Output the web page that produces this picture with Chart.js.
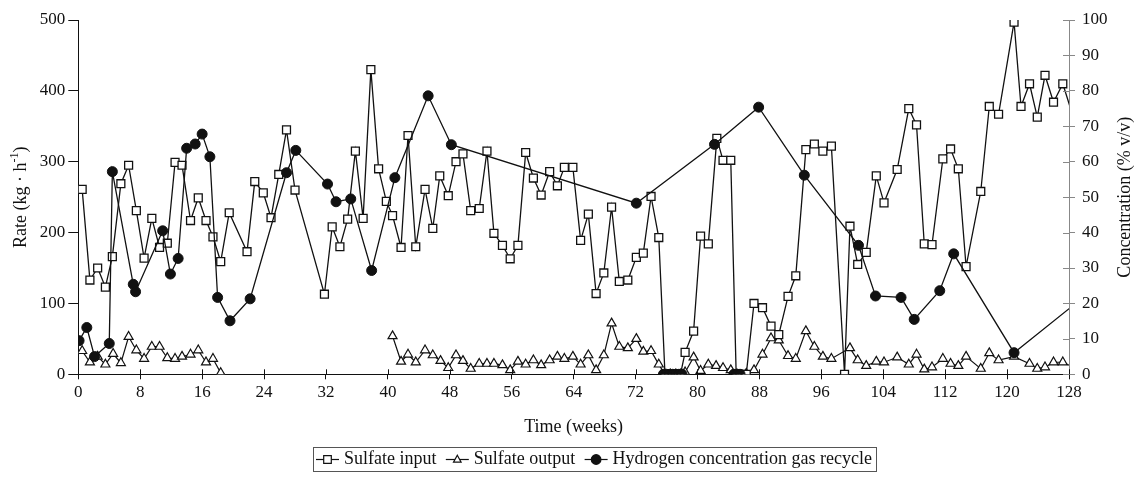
<!DOCTYPE html>
<html>
<head>
<meta charset="utf-8">
<script src="https://cdn.jsdelivr.net/npm/chart.js@4.4.0/dist/chart.umd.min.js"></script>
<style>
  html, body { margin: 0; background: #fff; }
  #wrap { width: 1137px; height: 480px; position: relative; }
</style>
</head>
<body>
<div id="wrap"><canvas id="chart"></canvas></div>
<script>
// Sulfate input (kg/h), left axis
const inputWeeks = [0.5, 1.5, 2.5, 3.5, 4.4, 5.5, 6.5, 7.5, 8.5, 9.5, 10.5, 11.5, 12.5, 13.4, 14.5, 15.5, 16.5, 17.4, 18.4, 19.5,
  21.8, 22.8, 23.9, 24.9, 25.9, 26.9, 28.0, 31.8, 32.8, 33.8, 34.8, 35.8, 36.8, 37.8, 38.8, 39.8, 40.6, 41.7, 42.6, 43.6,
  44.8, 45.8, 46.7, 47.8, 48.8, 49.7, 50.7, 51.8, 52.8, 53.7, 54.8, 55.8, 56.8, 57.8, 58.8, 59.8, 60.9, 61.9, 62.8, 63.9,
  64.9, 65.9, 66.9, 67.9, 68.9, 69.9, 71.0, 72.1, 73.0, 74.0, 75.0, 75.8, 76.3, 76.8, 77.3, 77.8, 78.4, 79.5, 80.4, 81.4,
  82.5, 83.3, 84.3, 85.0, 85.6, 86.3, 87.3, 88.4, 89.5, 90.5, 91.7, 92.7, 94.0, 95.1, 96.2, 97.3, 99.0, 99.7, 100.7, 101.8,
  103.1, 104.1, 105.8, 107.3, 108.3, 109.3, 110.3, 111.7, 112.7, 113.7, 114.7, 116.6, 117.7, 118.9, 120.9, 121.8, 122.9, 123.9, 124.9, 126.0,
  127.2, 129.5];
const inputRate = [261, 133, 150, 123, 166, 269, 295, 231, 164, 220, 179, 185, 299, 295, 217, 249, 217, 194, 159, 228,
  173, 272, 256, 221, 282, 345, 260, 113, 208, 180, 219, 315, 220, 430, 290, 244, 224, 179, 337, 180,
  261, 206, 280, 252, 300, 311, 231, 234, 315, 199, 182, 163, 182, 313, 277, 253, 286, 266, 292, 292,
  189, 226, 114, 143, 236, 131, 133, 165, 171, 251, 193, 0, 0, 0, 0, 0, 31, 61, 195, 184,
  333, 302, 302, 0, 0, 0, 100, 94, 68, 56, 110, 139, 317, 325, 315, 322, 0, 209, 155, 172,
  280, 242, 289, 375, 352, 184, 183, 304, 318, 290, 152, 258, 378, 367, 497, 378, 410, 363, 422, 384,
  410, 330];

// Sulfate output (kg/h), left axis; null = no measurements
const outputWeeks = [0.5, 1.5, 2.5, 3.5, 4.5, 5.5, 6.5, 7.5, 8.5, 9.5, 10.5, 11.5, 12.5, 13.4, 14.5, 15.5, 16.5, 17.4, 18.4, 30,
  40.6, 41.7, 42.6, 43.6, 44.8, 45.8, 46.8, 47.8, 48.8, 49.7, 50.7, 51.8, 52.8, 53.7, 54.8, 55.8, 56.8, 57.8, 58.8, 59.8,
  60.9, 61.9, 62.8, 63.9, 64.9, 65.9, 66.9, 67.9, 68.9, 69.9, 71.0, 72.1, 73.0, 74.0, 75.0, 75.8, 76.5, 77.2, 77.8, 78.4,
  79.5, 80.4, 81.4, 82.4, 83.3, 84.3, 85.1, 86.3, 87.3, 88.4, 89.5, 90.5, 91.7, 92.7, 94.0, 95.1, 96.2, 97.3, 99.7, 100.7,
  101.8, 103.1, 104.1, 105.8, 107.3, 108.3, 109.3, 110.3, 111.7, 112.7, 113.7, 114.7, 116.6, 117.7, 118.9, 120.9, 122.9, 123.9, 124.9, 126.0,
  127.2, 129];
const outputRate = [33, 17, 25, 14, 29, 16, 53, 34, 22, 39, 39, 23, 22, 25, 28, 34, 17, 22, 2, null,
  54, 18, 28, 17, 34, 27, 19, 9, 27, 19, 8, 15, 15, 15, 13, 6, 18, 14, 20, 13,
  20, 25, 22, 25, 14, 27, 6, 27, 72, 39, 37, 50, 32, 33, 14, 0, 0, 0, 0, 3,
  24, 5, 14, 12, 9, 6, 0, 1, 6, 28, 51, 48, 26, 22, 61, 39, 25, 22, 37, 20,
  12, 18, 17, 24, 14, 28, 7, 10, 22, 15, 12, 25, 8, 30, 20, 25, 15, 8, 10, 17,
  17, 8];

// Hydrogen concentration in gas recycle (% v/v), right axis
const h2Weeks = [0.1, 1.1, 2.1, 4.0, 4.4, 7.1, 7.4, 10.9, 11.9, 12.9, 14.0, 15.1, 16.0, 17.0, 18.0, 19.6, 22.2, 26.9, 28.1, 32.2,
  33.3, 35.2, 37.9, 40.9, 45.2, 48.2, 72.1, 82.2, 87.9, 93.8, 100.8, 103.0, 106.3, 108.0, 111.3, 113.1, 120.9, 130];
const h2Conc = [9.5, 13.2, 5.0, 8.7, 57.2, 25.4, 23.3, 40.5, 28.3, 32.7, 63.8, 65.0, 67.8, 61.4, 21.7, 15.1, 21.3, 56.9, 63.2, 53.7,
  48.7, 49.5, 29.3, 55.5, 78.6, 64.8, 48.3, 64.9, 75.4, 56.2, 36.4, 22.1, 21.7, 15.5, 23.6, 34.0, 6.1, 22];

// hydrogen readings at zero (unconnected)
const h2ZeroWeeks = [75.6, 76.0, 76.4, 76.8, 77.2, 77.6, 78.0, 84.7, 85.1, 85.5];

const xTicks = [0, 8, 16, 24, 32, 40, 48, 56, 64, 72, 80, 88, 96, 104, 112, 120, 128];

const INK = '#111';
const SERIF = '"Liberation Serif", "Times New Roman", serif';

const pts = (xs, ys) => xs.map((x, i) => ({ x, y: ys[i] }));

function drawMarker(ctx, style, x, y, r, fill) {
  ctx.beginPath();
  if (style === 'rect') {
    ctx.rect(x - r, y - r, 2 * r, 2 * r);
  } else if (style === 'triangle') {
    ctx.moveTo(x, y - r * 1.1);
    ctx.lineTo(x + r, y + r * 0.7);
    ctx.lineTo(x - r, y + r * 0.7);
    ctx.closePath();
  } else {
    ctx.arc(x, y, r, 0, Math.PI * 2);
  }
  ctx.fillStyle = fill;
  ctx.fill();
  ctx.stroke();
}

const decor = {
  id: 'decor',
  afterDraw(chart) {
    const { ctx, chartArea: a, scales } = chart;
    ctx.save();

    // inner half of the crossing tick marks
    ctx.lineWidth = 1;
    ctx.strokeStyle = INK;
    ctx.beginPath();
    scales.x.ticks.forEach(t => {
      const px = Math.round(scales.x.getPixelForValue(t.value)) + 0.5;
      ctx.moveTo(px, a.bottom);
      ctx.lineTo(px, a.bottom - 5);
    });
    ctx.stroke();
    ctx.strokeStyle = '#888';
    ctx.beginPath();
    scales.y2.ticks.forEach(t => {
      const py = Math.round(scales.y2.getPixelForValue(t.value)) + 0.5;
      ctx.moveTo(a.right, py);
      ctx.lineTo(a.right - 6, py);
    });
    ctx.stroke();

    // vertical axis titles, both reading bottom to top
    ctx.fillStyle = INK;
    ctx.textBaseline = 'middle';
    const cy = (a.top + a.bottom) / 2;
    const big = '18px ' + SERIF, small = '12px ' + SERIF;
    ctx.save();
    ctx.translate(21, cy);
    ctx.rotate(-Math.PI / 2);
    ctx.font = big;
    const p1 = 'Rate (kg \u00b7 h', p3 = ')';
    const w1 = ctx.measureText(p1).width, w3 = ctx.measureText(p3).width;
    ctx.font = small;
    const w2 = ctx.measureText('-1').width;
    let sx = -(w1 + w2 + w3) / 2;
    ctx.textAlign = 'left';
    ctx.font = big;
    ctx.fillText(p1, sx, 0);
    ctx.font = small;
    ctx.fillText('-1', sx + w1, -6);
    ctx.font = big;
    ctx.fillText(p3, sx + w1 + w2, 0);
    ctx.restore();

    ctx.save();
    ctx.translate(1125, cy);
    ctx.rotate(-Math.PI / 2);
    ctx.font = big;
    ctx.textAlign = 'center';
    ctx.fillText('Concentration (% v/v)', 0, 0);
    ctx.restore();

    // legend box
    const items = [
      { label: 'Sulfate input', style: 'rect', r: 3.8, fill: '#fff' },
      { label: 'Sulfate output', style: 'triangle', r: 3.8, fill: '#fff' },
      { label: 'Hydrogen concentration gas recycle', style: 'circle', r: 4.8, fill: INK }
    ];
    const boxL = 313, boxR = 876, boxT = 447, boxB = 471;
    ctx.font = '18px ' + SERIF;
    const lineLen = 23, gapText = 5;
    const widths = items.map(it => ctx.measureText(it.label).width);
    const used = widths.reduce((s, w) => s + w + lineLen + gapText, 0);
    const gap = Math.max(3, (boxR - boxL - 7 - used) / 2);
    ctx.lineWidth = 1;
    ctx.strokeStyle = '#555';
    ctx.strokeRect(boxL + 0.5, boxT + 0.5, boxR - boxL, boxB - boxT);
    let lx = boxL + 3;
    const ly = (boxT + boxB) / 2 + 0.5;
    items.forEach((it, i) => {
      ctx.strokeStyle = INK;
      ctx.lineWidth = 1.2;
      ctx.beginPath();
      ctx.moveTo(lx, ly);
      ctx.lineTo(lx + lineLen, ly);
      ctx.stroke();
      drawMarker(ctx, it.style, lx + lineLen / 2, ly, it.r, it.fill);
      ctx.fillStyle = INK;
      ctx.textAlign = 'left';
      ctx.fillText(it.label, lx + lineLen + gapText, ly);
      lx += lineLen + gapText + widths[i] + gap;
    });

    ctx.restore();
  }
};

const tickFont = { family: SERIF, size: 17 };

new Chart(document.getElementById('chart'), {
  type: 'line',
  data: {
    datasets: [
      {
        label: 'Hydrogen zero readings',
        data: h2ZeroWeeks.map(x => ({ x, y: 0 })),
        yAxisID: 'y2',
        showLine: false,
        pointStyle: 'circle',
        pointRadius: 5,
        pointBackgroundColor: INK,
        pointBorderColor: INK,
        borderColor: INK
      },
      {
        label: 'Hydrogen concentration gas recycle',
        data: pts(h2Weeks, h2Conc),
        yAxisID: 'y2',
        borderColor: INK,
        borderWidth: 1.3,
        pointStyle: 'circle',
        pointRadius: 5,
        pointBackgroundColor: INK,
        pointBorderColor: INK,
        pointBorderWidth: 1
      },
      {
        label: 'Sulfate input',
        data: pts(inputWeeks, inputRate),
        yAxisID: 'y',
        borderColor: INK,
        borderWidth: 1.3,
        pointStyle: 'rect',
        pointRadius: 5.6,
        pointBackgroundColor: '#fff',
        pointBorderColor: INK,
        pointBorderWidth: 1.3
      },
      {
        label: 'Sulfate output',
        data: pts(outputWeeks, outputRate),
        yAxisID: 'y',
        spanGaps: false,
        borderColor: INK,
        borderWidth: 1.2,
        pointStyle: 'triangle',
        pointRadius: 5.2,
        pointBackgroundColor: '#fff',
        pointBorderColor: INK,
        pointBorderWidth: 1.2
      }
    ]
  },
  options: {
    responsive: true,
    maintainAspectRatio: false,
    animation: false,
    layout: { padding: { top: 20, left: 0, right: 0, bottom: 0 } },
    plugins: { legend: { display: false }, tooltip: { enabled: false } },
    scales: {
      x: {
        type: 'linear',
        min: 0,
        max: 128,
        afterBuildTicks: s => { s.ticks = xTicks.map(v => ({ value: v })); },
        afterFit: s => { s.height = 105.7; },
        grid: { display: true, drawOnChartArea: false, drawTicks: true, tickLength: 5, color: INK },
        border: { display: true, color: INK, width: 1 },
        ticks: { font: tickFont, color: INK, padding: 3, maxRotation: 0, autoSkip: false },
        title: { display: true, text: 'Time (weeks)', font: { family: SERIF, size: 18 }, color: INK, padding: { top: 0, bottom: 42 } }
      },
      y: {
        position: 'left',
        min: 0,
        max: 500,
        afterFit: s => { s.width = 78.3; },
        grid: { display: true, drawOnChartArea: false, drawTicks: true, tickLength: 10, color: INK },
        border: { display: true, color: INK, width: 1 },
        ticks: { stepSize: 100, font: tickFont, color: INK, padding: 3 }
      },
      y2: {
        position: 'right',
        min: 0,
        max: 100,
        afterFit: s => { s.width = 68; },
        grid: { display: true, drawOnChartArea: false, drawTicks: true, tickLength: 6, color: '#888' },
        border: { display: true, color: '#888', width: 1 },
        ticks: { stepSize: 10, font: tickFont, color: INK, padding: 7 }
      }
    }
  },
  plugins: [decor]
});
</script>
</body>
</html>
